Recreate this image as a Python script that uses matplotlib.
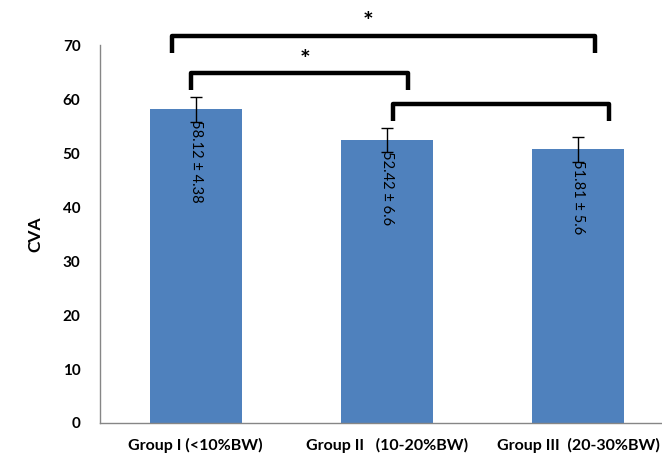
import matplotlib.pyplot as plt
import numpy as np

# ----------------------------------------------------------
# DATOS
# ----------------------------------------------------------
grupos   = ["Group I (<10%BW)", "Group II   (10-20%BW)", "Group III  (20-30%BW)"]
valores  = [58.1, 52.4, 50.7]
errores  = [2.3, 2.2, 2.3]
etiquetas = ["58.12 \u00b1 4.38", "52.42 \u00b1 6.6", "51.81 \u00b1 5.6"]

# Brackets de significancia: (grupo inicio, grupo fin, altura, marca)
brackets = [
    (0, 2, 71.7, "*"),
    (0, 1, 64.8, "*"),
    (1, 2, 59.1, ""),
]

COLOR_BARRA = "#4F81BD"
COLOR_EJE   = "#868686"
plt.rcParams["font.family"] = ["Lato", "DejaVu Sans"]

# ----------------------------------------------------------
# GRÁFICO
# ----------------------------------------------------------
figura = plt.figure(figsize=(6.62, 4.57), dpi=100)
eje = figura.add_axes([0.151, 0.0744, 0.867, 0.827])

x = np.arange(len(grupos))
eje.bar(x, valores, width=0.48, color=COLOR_BARRA, zorder=2)
eje.errorbar(x, valores, yerr=errores, fmt="none", ecolor="black",
             elinewidth=1, capsize=4, capthick=1, zorder=3)

for xi, v, texto in zip(x, valores, etiquetas):
    eje.text(xi, v - 2.0, texto, rotation=-90, ha="center", va="top",
             fontsize=10.5, color="black", zorder=4)

eje.set_xlim(-0.5, 2.5)
eje.set_ylim(0, 70)
eje.set_yticks(range(0, 71, 10))
eje.set_xticks(x)
eje.set_xticklabels(grupos, fontsize=11.5, fontweight="bold")
for t in eje.get_yticklabels():
    t.set_fontweight("bold")
    t.set_fontsize(11)
eje.tick_params(length=0)
eje.tick_params(axis="y", pad=14)
eje.tick_params(axis="x", pad=11)
eje.set_ylabel("CVA", fontsize=12.5, fontweight="bold", labelpad=14)

for lado in ["top", "right"]:
    eje.spines[lado].set_visible(False)
for lado in ["left", "bottom"]:
    eje.spines[lado].set_color(COLOR_EJE)
    eje.spines[lado].set_linewidth(1)

# Brackets: extremos ajustados levemente respecto al centro del grupo
ajuste = {(0, 2): (-0.124, 0.09), (0, 1): (-0.025, 0.11), (1, 2): (0.03, 0.16)}
pos_marca = {(0, 2): 0.9, (0, 1): 0.57}
for g1, g2, altura, marca in brackets:
    d1, d2 = ajuste[(g1, g2)]
    xa, xb = g1 + d1, g2 + d2
    pierna = 3.2
    eje.plot([xa, xa, xb, xb], [altura - pierna, altura, altura, altura - pierna],
             color="black", lw=3.2, solid_joinstyle="round",
             solid_capstyle="butt", clip_on=False, zorder=5)
    if marca:
        eje.text(pos_marca[(g1, g2)], altura + 0.3, marca, ha="center", va="bottom",
                 fontsize=18, fontweight="bold", clip_on=False)

plt.savefig("out.png", dpi=100)
